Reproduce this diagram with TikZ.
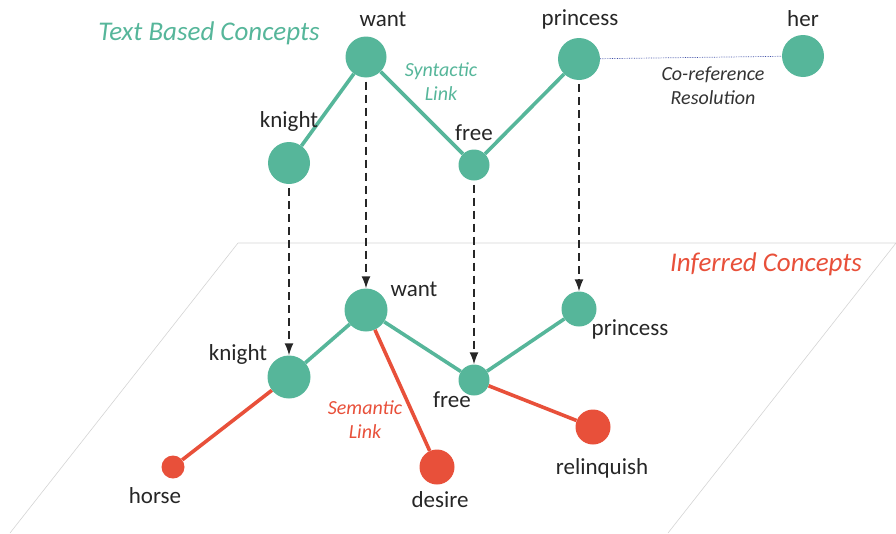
\documentclass[tikz,border=0pt]{standalone}
\usepackage{fontspec}
\setmainfont{Carlito}
\usetikzlibrary{arrows.meta}
\definecolor{conceptgreen}{HTML}{56B69A}
\definecolor{inferredred}{HTML}{E8503A}
\definecolor{planegray}{HTML}{D4D4D4}
\definecolor{corefblue}{HTML}{4050A8}
\tikzset{
  concept/.style={circle, fill=conceptgreen, inner sep=0pt},
  inferred/.style={circle, fill=inferredred, inner sep=0pt},
  word/.style={font=\fontsize{23}{26}\selectfont, text=black!85, inner sep=0pt, anchor=base},
  title/.style={font=\fontsize{27}{30}\selectfont\itshape, inner sep=0pt, anchor=base},
  note/.style={font=\fontsize{20}{24}\selectfont\itshape, inner sep=0pt, align=center},
  synlink/.style={conceptgreen, line width=3.6pt},
  semlink/.style={inferredred, line width=3.6pt},
  drop/.style={-{Latex[length=12pt,width=9pt]}, dash pattern=on 8pt off 5pt, line width=1.4pt, black!85},
}
\begin{document}
\begin{tikzpicture}[x=1pt, y=-1pt]
  \useasboundingbox (0,0) rectangle (896,533);
  % plane of inferred concepts
  \draw[planegray, line width=0.6pt] (238,243) -- (896,243) (10,533) -- (238,243) (668,533) -- (896,243);

  % text based concepts
  \node[concept, minimum size=41pt] (want) at (366,57) {};
  \node[concept, minimum size=42pt] (knight) at (289,163) {};
  \node[concept, minimum size=31pt] (free) at (474,165) {};
  \node[concept, minimum size=42pt] (princess) at (579,59) {};
  \node[concept, minimum size=42pt] (her) at (803,56) {};

  % inferred concepts
  \node[concept, minimum size=43pt] (want2) at (366,310) {};
  \node[concept, minimum size=43pt] (knight2) at (289,377) {};
  \node[concept, minimum size=31pt] (free2) at (474,380) {};
  \node[concept, minimum size=35pt] (princess2) at (579,309) {};
  \node[inferred, minimum size=23pt] (horse) at (173,467) {};
  \node[inferred, minimum size=35pt] (desire) at (437,467) {};
  \node[inferred, minimum size=35pt] (relinquish) at (593,427) {};

  \draw[synlink] (knight) -- (want) -- (free) -- (princess);
  \draw[corefblue, densely dotted, line width=0.7pt] (princess) -- (her);
  \draw[synlink] (knight2) -- (want2) -- (free2) -- (princess2);
  \draw[semlink] (knight2) -- (horse);
  \draw[semlink] (want2) -- (desire);
  \draw[semlink] (free2) -- (relinquish);

  \draw[drop] (knight.south) ++(0,4) coordinate (k1) (k1) -- (knight2.north);
  \draw[drop] (want.south) ++(0,4) coordinate (w1) (w1) -- (want2.north);
  \draw[drop] (free.south) ++(0,4) coordinate (f1) (f1) -- (free2.north);
  \draw[drop] (princess.south) ++(0,4) coordinate (p1) (p1) -- (princess2.north);

  % labels
  \node[title, conceptgreen] (tbc) at (209,40) {Text Based Concepts};
  \node[title, inferredred] (ic) at (766,271) {Inferred Concepts};
  \node[note, conceptgreen] (syn) at (441,82) {Syntactic\\Link};
  \node[note, black!80] (coref) at (713,86) {Co-reference\\Resolution};
  \node[note, inferredred] (sem) at (365,420) {Semantic\\Link};

  \node[word] (lwant) at (383,26) {want};
  \node[word] (lknight) at (289,127) {knight};
  \node[word] (lfree) at (474,140) {free};
  \node[word] (lprincess) at (580,25) {princess};
  \node[word] (lher) at (803,26) {her};
  \node[word] (lwant2) at (414,296) {want};
  \node[word] (lknight2) at (238,360) {knight};
  \node[word] (lfree2) at (452,407) {free};
  \node[word] (lprincess2) at (630,335) {princess};
  \node[word] (lhorse) at (155,503) {horse};
  \node[word] (ldesire) at (440,507) {desire};
  \node[word] (lrelinquish) at (602,474) {relinquish};
\end{tikzpicture}
\end{document}
